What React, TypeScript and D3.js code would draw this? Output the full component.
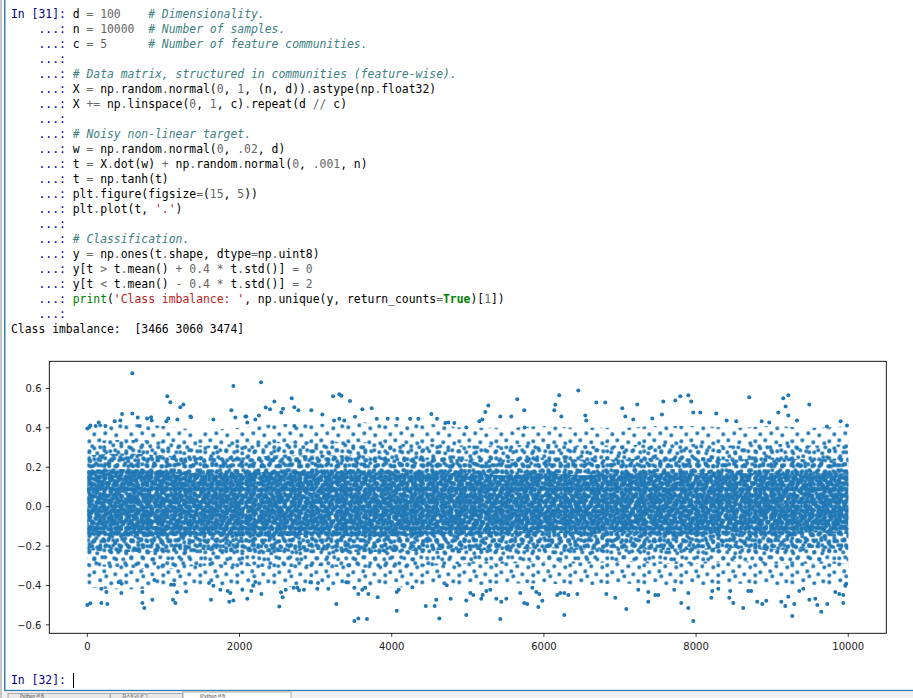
import React from "react";
import * as d3 from "d3";

// ---------- notebook text ----------
const CODE_LINES: string[] = [
  "d = 100    # Dimensionality.",
  "n = 10000  # Number of samples.",
  "c = 5      # Number of feature communities.",
  "",
  "# Data matrix, structured in communities (feature-wise).",
  "X = np.random.normal(0, 1, (n, d)).astype(np.float32)",
  "X += np.linspace(0, 1, c).repeat(d // c)",
  "",
  "# Noisy non-linear target.",
  "w = np.random.normal(0, .02, d)",
  "t = X.dot(w) + np.random.normal(0, .001, n)",
  "t = np.tanh(t)",
  "plt.figure(figsize=(15, 5))",
  "plt.plot(t, '.')",
  "",
  "# Classification.",
  "y = np.ones(t.shape, dtype=np.uint8)",
  "y[t > t.mean() + 0.4 * t.std()] = 0",
  "y[t < t.mean() - 0.4 * t.std()] = 2",
  "print('Class imbalance: ', np.unique(y, return_counts=True)[1])",
  "",
];
const FIRST_PROMPT = "In [31]: ";
const CONT_PROMPT = "    ...: ";
const OUTPUT_LINE = "Class imbalance:  [3466 3060 3474]";
const NEXT_PROMPT = "In [32]: ";
const TAB_LABELS = ["Python 콘솔", "히스토리 로그", "IPython 콘솔"];

// ---------- chart data ----------
const X_TICKS = [0, 2000, 4000, 6000, 8000, 10000];
const Y_TICKS = [-0.6, -0.4, -0.2, 0.0, 0.2, 0.4, 0.6];

// density envelopes of the 10000-point cloud
const BAND_X = [0, 500, 1000, 1500, 2000, 2500, 3000, 3500, 4000, 4500, 5000, 5500, 6000, 6500, 7000, 7500, 8000, 8500, 9000, 9500, 10000];
const SPARSE_HI = [0.42, 0.42, 0.41, 0.39, 0.40, 0.42, 0.42, 0.43, 0.42, 0.42, 0.40, 0.40, 0.41, 0.40, 0.40, 0.41, 0.41, 0.40, 0.41, 0.40, 0.41];
const MID_HI = [0.33, 0.34, 0.33, 0.31, 0.32, 0.33, 0.33, 0.33, 0.32, 0.32, 0.31, 0.31, 0.32, 0.31, 0.31, 0.32, 0.32, 0.31, 0.32, 0.31, 0.32];
const DENSE_HI = [0.26, 0.27, 0.26, 0.25, 0.25, 0.26, 0.26, 0.26, 0.25, 0.25, 0.24, 0.24, 0.25, 0.24, 0.24, 0.25, 0.25, 0.24, 0.25, 0.24, 0.25];
const CORE_HI = [0.18, 0.19, 0.18, 0.17, 0.17, 0.18, 0.18, 0.18, 0.17, 0.17, 0.17, 0.16, 0.17, 0.16, 0.17, 0.17, 0.17, 0.17, 0.17, 0.17, 0.17];
const CORE_LO = [-0.14, -0.15, -0.15, -0.14, -0.15, -0.15, -0.14, -0.15, -0.15, -0.14, -0.14, -0.14, -0.13, -0.14, -0.13, -0.14, -0.14, -0.13, -0.14, -0.13, -0.14];
const DENSE_LO = [-0.22, -0.23, -0.23, -0.22, -0.23, -0.23, -0.22, -0.23, -0.23, -0.22, -0.22, -0.22, -0.21, -0.22, -0.21, -0.22, -0.22, -0.21, -0.22, -0.21, -0.22];
const MID_LO = [-0.30, -0.31, -0.32, -0.30, -0.30, -0.31, -0.30, -0.31, -0.31, -0.30, -0.29, -0.29, -0.28, -0.29, -0.28, -0.29, -0.29, -0.28, -0.29, -0.29, -0.29];
const SPARSE_LO = [-0.41, -0.42, -0.41, -0.40, -0.41, -0.41, -0.40, -0.41, -0.41, -0.40, -0.40, -0.39, -0.39, -0.40, -0.39, -0.40, -0.40, -0.39, -0.40, -0.40, -0.40];

// individual outlying samples above the cloud
const UPPER_X = [591, 1051, 1091, 1222, 1262, 1919, 2283, 1893, 1945, 2344, 2401, 2458, 2572, 2686, 2720, 2773, 2944, 3229, 3311, 3338, 3452, 3614, 3737, 3088, 3518, 837, 456, 591, 1363, 2076,
  5650, 6202, 6452, 5270, 5230, 5742, 6150, 6137, 6689, 6807, 7030, 7227, 7569, 7727, 7792, 7898, 7937, 8699, 9146, 9212, 9177, 9488, 9080, 9212, 8265, 8055, 7963, 7552, 7424, 7070, 7175, 6544, 6557, 6229, 5572, 5427, 5191, 5151,
  9900, 9983, 9720, 9326, 8402, 8528, 8862, 8962, 5747, 4980, 4744, 3803, 4074, 4241, 4350, 4521, 4595, 4704, 4823, 3311, 3377, 3947,
  0, 40, 110, 150, 237, 360, 434, 662, 689, 785, 846, 1038, 1064, 1183, 1354, 1656, 2089, 2102, 2208, 2256, 2549, 2720, 3242];
const UPPER_Y = [0.677, 0.56, 0.53, 0.505, 0.519, 0.612, 0.631, 0.489, 0.453, 0.504, 0.494, 0.534, 0.497, 0.55, 0.505, 0.49, 0.489, 0.56, 0.571, 0.563, 0.536, 0.494, 0.499, 0.468, 0.456, 0.454, 0.47, 0.473, 0.454, 0.458,
  0.545, 0.566, 0.59, 0.514, 0.48, 0.489, 0.517, 0.489, 0.529, 0.529, 0.499, 0.519, 0.534, 0.539, 0.56, 0.565, 0.534, 0.555, 0.55, 0.565, 0.509, 0.519, 0.478, 0.463, 0.473, 0.478, 0.478, 0.468, 0.448, 0.458, 0.443, 0.463, 0.438, 0.458, 0.458, 0.458, 0.443, 0.433,
  0.433, 0.412, 0.407, 0.438, 0.438, 0.433, 0.433, 0.427, 0.402, 0.402, 0.427, 0.446, 0.446, 0.446, 0.446, 0.471, 0.446, 0.425, 0.425, 0.446, 0.438, 0.446,
  0.397, 0.412, 0.409, 0.427, 0.409, 0.433, 0.438, 0.453, 0.409, 0.448, 0.438, 0.433, 0.448, 0.443, 0.458, 0.443, 0.458, 0.427, 0.443, 0.463, 0.478, 0.41, 0.438];

// individual outlying samples below the cloud
const LOWER_X = [0, 39, 184, 263, 184, 250, 412, 452, 447, 723, 749, 723, 854, 880, 1126, 1157, 1179, 1100, 1139, 1297, 1625, 1599, 1656, 1748, 1866, 1919, 1845, 1879, 2102, 2037, 2155, 2208, 2181, 2287, 2523, 2567, 2545, 2607, 2712, 2760, 2782, 2847, 2930, 3032, 3022, 3167, 3272, 3404, 3509, 3561, 3675, 3509, 3561, 3614, 3653, 3693, 3816, 4066, 4066, 4092, 4271, 4447, 4565, 4586, 4626, 4775, 4723,
  4980, 4980, 5033, 5072, 5177, 5195, 5243, 5296, 5375, 5440, 5506, 5427, 5690, 5742, 5782, 5848, 5900, 5940, 5927, 5979, 6176, 6216, 6268, 6321, 6268, 6439, 6820, 6938, 7083, 7240, 7372, 7372, 7464, 7503, 7713, 7805, 7898, 7898, 7963, 8200, 8213, 8292, 8436, 8489, 8449, 8620, 8686, 8725, 8804, 8870, 8922, 9120, 9172, 9212, 9264, 9290, 9356, 9409, 9488, 9567, 9593, 9645, 9724, 9829, 9882, 9934, 9934, 9974, 9961];
const LOWER_Y = [-0.499, -0.491, -0.489, -0.494, -0.417, -0.433, -0.384, -0.392, -0.438, -0.489, -0.514, -0.433, -0.473, -0.372, -0.473, -0.489, -0.435, -0.397, -0.397, -0.431, -0.473, -0.387, -0.401, -0.422, -0.483, -0.477, -0.428, -0.438, -0.468, -0.422, -0.428, -0.382, -0.399, -0.443, -0.507, -0.46, -0.435, -0.422, -0.412, -0.412, -0.425, -0.422, -0.384, -0.387, -0.417, -0.417, -0.494, -0.384, -0.58, -0.568, -0.57, -0.412, -0.443, -0.422, -0.412, -0.443, -0.46, -0.529, -0.433, -0.422, -0.409, -0.504, -0.504, -0.473, -0.568, -0.468, -0.399,
  -0.55, -0.477, -0.438, -0.448, -0.468, -0.448, -0.428, -0.422, -0.468, -0.483, -0.468, -0.57, -0.438, -0.489, -0.494, -0.412, -0.433, -0.443, -0.509, -0.478, -0.448, -0.438, -0.438, -0.448, -0.55, -0.443, -0.443, -0.463, -0.519, -0.422, -0.433, -0.483, -0.448, -0.448, -0.422, -0.489, -0.438, -0.514, -0.58, -0.463, -0.428, -0.417, -0.463, -0.489, -0.428, -0.514, -0.428, -0.428, -0.483, -0.494, -0.478, -0.483, -0.504, -0.458, -0.555, -0.494, -0.428, -0.417, -0.473, -0.468, -0.499, -0.534, -0.494, -0.433, -0.443, -0.448, -0.489, -0.392, -0.402];

// ---------- style ----------
const BLUE = "#1f77b4";
const MONO = "'DejaVu Sans Mono', 'Liberation Mono', monospace";
const CW = 6.857;
const X0 = 11;
const LINE_H = 15;
const LINE0 = 14;

// texture stamps (styling only): irregular dot tiles of co-prime sizes, stacked to render point density
const STAMPS: { w: number; h: number; pts: number[][] }[] = [
  { w: 37, h: 31, pts: [[3, 4], [14, 2], [25, 5], [34, 3], [8, 11], [19, 10], [30, 12], [3, 18], [13, 17], [24, 19], [35, 20], [8, 25], [18, 24], [29, 27], [3, 28], [20, 29]] },
  { w: 29, h: 25, pts: [[2, 2], [10, 4], [18, 2], [26, 5], [6, 9], [14, 10], [22, 11], [3, 15], [11, 16], [19, 17], [26, 14], [7, 22], [16, 23], [24, 21]] },
  { w: 23, h: 19, pts: [[3, 3], [10, 2], [17, 4], [6, 9], [13, 8], [20, 10], [2, 15], [10, 14], [16, 16], [21, 17]] },
  { w: 19, h: 17, pts: [[3, 3], [11, 2], [16, 8], [7, 9], [13, 14], [3, 15]] },
  { w: 15, h: 13, pts: [[2, 2], [6, 3], [10, 2], [13, 5], [4, 7], [8, 7], [12, 9], [2, 11], [6, 11], [10, 11]] },
  { w: 13, h: 11, pts: [[2, 2], [7, 3], [11, 6], [4, 7], [9, 9]] },
];

type Tok = { t: string; c: string; it?: boolean; b?: boolean };
function tokenize(code: string): Tok[] {
  const re = /(#.*$)|('[^']*')|(\d+\.\d*|\.\d+|\d+)|(\bprint\b)|(\bTrue\b)|(\/\/|[=+\-*\/<>.])|([A-Za-z_]\w*)|(\s+)|(.)/g;
  const out: Tok[] = [];
  let m: RegExpExecArray | null;
  while ((m = re.exec(code)) !== null) {
    if (m[0] === "") { re.lastIndex++; continue; }
    if (m[1]) out.push({ t: m[0], c: "#408080", it: true });
    else if (m[2]) out.push({ t: m[0], c: "#BA2121" });
    else if (m[3]) out.push({ t: m[0], c: "#666666" });
    else if (m[4]) out.push({ t: m[0], c: "#008000" });
    else if (m[5]) out.push({ t: m[0], c: "#008000", b: true });
    else if (m[6]) out.push({ t: m[0], c: "#666666" });
    else out.push({ t: m[0], c: "#000000" });
  }
  return out;
}

function CodeLine({ prompt, code, row }: { prompt: string; code: string; row: number }) {
  const yb = LINE0 + row * LINE_H + 4;
  const toks = tokenize(code);
  let col = prompt.length;
  const els: React.ReactNode[] = [];
  toks.forEach((tk, i) => {
    if (tk.t.trim() !== "") {
      els.push(
        <text key={i} x={X0 + col * CW} y={yb} fill={tk.c} fontStyle={tk.it ? "italic" : "normal"} fontWeight={tk.b ? "bold" : "normal"} style={{ whiteSpace: "pre" }}>
          {tk.t}
        </text>
      );
    }
    col += tk.t.length;
  });
  return (
    <g>
      <text x={X0} y={yb} fill="#000080" style={{ whiteSpace: "pre" }}>{prompt}</text>
      {els}
    </g>
  );
}

export default function App() {
  const W = 913, H = 698;
  const L = 49.3, R = 886.3, T = 361.3, B = 633.3;
  const x = d3.scaleLinear().domain([-500, 10500]).range([L, R]);
  const y = d3.scaleLinear().domain([-0.643, 0.738]).range([B, T]);

  const rows = BAND_X.map((bx, i) => ({ x: bx, i }));
  type Row = typeof rows[number];
  const band = (lo: number[], hi: number[]) =>
    d3.area<Row>().x((r) => x(r.x)).y0((r) => y(lo[r.i])).y1((r) => y(hi[r.i])).curve(d3.curveMonotoneX)(rows) || "";

  const sparse = band(SPARSE_LO, SPARSE_HI);
  const mid = band(MID_LO, MID_HI);
  const dense = band(DENSE_LO, DENSE_HI);
  const core = band(CORE_LO, CORE_HI);
  const layers = [sparse, mid, dense, dense, core, core];

  const upper = UPPER_X.map((v, i) => [v, UPPER_Y[i]]);
  const lower = LOWER_X.map((v, i) => [v, LOWER_Y[i]]);
  const fmt = (v: number) => d3.format(".1f")(v).replace("-", "\u2212");

  return (
    <svg width={W} height={H} viewBox={`0 0 ${W} ${H}`} style={{ position: "absolute", left: 0, top: 0, background: "#fff" }}>
      <defs>
        {STAMPS.map((s, k) => (
          <pattern key={k} id={"tex" + k} patternUnits="userSpaceOnUse" width={s.w} height={s.h} x={L} y={T}>
            {s.pts.map(([a, b], i) => <circle key={i} cx={a} cy={b} r={2} fill={BLUE} />)}
          </pattern>
        ))}
      </defs>

      {/* window frame */}
      <rect x={0} y={0} width={2} height={H} fill="#c8c8c8" />
      <rect x={4} y={0} width={1.5} height={691} fill="#3c7fb1" />
      <rect x={4} y={689.8} width={W - 4} height={1.6} fill="#3c7fb1" />
      <rect x={2} y={691.4} width={W - 2} height={H - 691.4} fill="#f0f0f0" />
      <rect x={8} y={693.5} width={102} height={6} fill="#e8e8e8" stroke="#acacac" strokeWidth={1} />
      <rect x={110.5} y={693.5} width={72} height={6} fill="#e8e8e8" stroke="#acacac" strokeWidth={1} />
      <rect x={183} y={692} width={108} height={7} fill="#ffffff" stroke="#acacac" strokeWidth={1} />
      {TAB_LABELS.map((t, i) => (
        <text key={i} x={[20, 122, 200][i]} y={697.6} fontFamily="'Noto Sans CJK KR', 'Noto Sans', sans-serif" fontSize={4.5} fill="#333">{t}</text>
      ))}

      {/* code cell */}
      <g fontFamily={MONO} fontSize={11.4}>
        {CODE_LINES.map((c, i) => (
          <CodeLine key={i} prompt={i === 0 ? FIRST_PROMPT : CONT_PROMPT} code={c} row={i} />
        ))}
        <text x={X0} y={LINE0 + CODE_LINES.length * LINE_H + 4} fill="#000" style={{ whiteSpace: "pre" }}>{OUTPUT_LINE}</text>
        <text x={X0} y={684} fill="#000080" style={{ whiteSpace: "pre" }}>{NEXT_PROMPT}</text>
      </g>
      <line x1={73.5} x2={73.5} y1={673} y2={688} stroke="#000" strokeWidth={1} />

      {/* chart: point cloud rendered as stacked density textures + individual outliers */}
      <g>
        {layers.map((d, k) => <path key={k} d={d} fill={`url(#tex${k})`} />)}
        {upper.map(([a, b], i) => <circle key={"u" + i} cx={x(a)} cy={y(b)} r={2} fill={BLUE} />)}
        {lower.map(([a, b], i) => <circle key={"l" + i} cx={x(a)} cy={y(b)} r={2} fill={BLUE} />)}
      </g>
      <rect x={L} y={T} width={R - L} height={B - T} fill="none" stroke="#000" strokeWidth={0.9} />
      <g fontFamily="'DejaVu Sans', sans-serif" fontSize={10} fill="#222">
        {X_TICKS.map((t) => (
          <g key={t}>
            <line x1={x(t)} x2={x(t)} y1={B} y2={B + 3.5} stroke="#000" strokeWidth={0.8} />
            <text x={x(t)} y={649.5} textAnchor="middle">{t}</text>
          </g>
        ))}
        {Y_TICKS.map((t) => (
          <g key={t}>
            <line x1={L - 3.5} x2={L} y1={y(t)} y2={y(t)} stroke="#000" strokeWidth={0.8} />
            <text x={41.5} y={y(t) + 3.7} textAnchor="end">{fmt(t)}</text>
          </g>
        ))}
      </g>
    </svg>
  );
}
